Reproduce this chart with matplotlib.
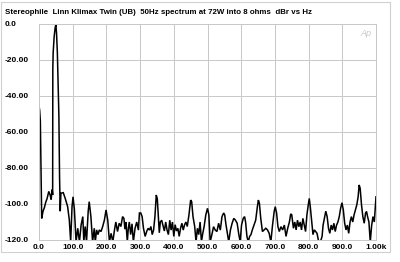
import matplotlib
matplotlib.use("Agg")
import matplotlib.pyplot as plt
from matplotlib.patches import Rectangle

title = "Stereophile  Linn Klimax Twin (UB)  50Hz spectrum at 72W into 8 ohms  dBr vs Hz"

freq_hz = [0, 2, 4, 6, 8, 12, 16, 20, 24, 29, 33, 36, 39, 40.5, 41, 42, 45, 48, 50, 52, 54.5, 57, 59, 61, 63,
           65, 72, 78, 85, 90, 94, 98, 101, 105, 110, 115, 120, 125, 130, 133, 137, 141, 146, 149, 154, 159,
           164, 167, 171, 175, 179, 184, 189, 194, 199, 204, 209, 214, 219, 224, 228, 233, 238, 243, 248,
           252, 255, 258, 262, 265, 268, 272, 276, 280, 285, 290, 295, 298, 302, 306, 310, 315, 320, 324,
           328, 332, 336, 340, 344, 348, 351, 354, 357, 360, 364, 368, 372, 376, 380, 384, 388, 392, 396,
           400, 404, 408, 412, 416, 420, 424, 428, 432, 436, 440, 445, 450, 453, 457, 462, 466, 470, 474,
           478, 482, 486, 490, 495, 500, 504, 506, 508, 513, 518, 523, 528, 533, 538, 543, 548, 551, 555,
           559, 563, 568, 573, 578, 583, 588, 593, 597, 601, 606, 610, 613, 617, 621, 625, 629, 633, 638,
           643, 648, 651, 654, 658, 663, 668, 673, 678, 683, 688, 693, 698, 701, 705, 709, 713, 718, 723,
           728, 733, 738, 743, 747, 750, 755, 759, 763, 767, 771, 775, 779, 783, 787, 791, 795, 799, 802,
           805, 809, 813, 817, 821, 825, 830, 835, 840, 843, 847, 851, 855, 859, 863, 867, 871, 875, 879,
           883, 887, 891, 895, 899, 903, 907, 911, 915, 919, 923, 927, 931, 935, 939, 943, 947, 950, 953,
           957, 961, 965, 969, 972, 975, 979, 983, 987, 991, 995, 998, 1000]

level_dbr = [-45.5, -48, -54, -80, -108, -104, -102, -99, -97, -93, -95, -97.5, -92, -95, -25, -16, -7, -2,
             -0.3, -5, -16, -35, -51, -85, -104,
             -94, -93.7, -97, -101.5, -109, -121, -101.5, -96, -103, -121, -113.5, -121, -111.6, -107, -121,
             -112.5, -121, -104, -98.7, -107, -121,
             -113.5, -121, -114.4, -117, -114.4, -115.3, -112.5, -109, -103.3, -109, -121, -116.3, -121,
             -114.4, -110, -115.3, -110.7, -112.5, -107,
             -108, -114, -110, -121, -113.5, -110, -117, -111, -121, -113.5, -110, -114.5, -105, -105, -107,
             -113.5, -118, -115, -113.5,
             -114.5, -112.5, -117, -114.5, -107, -95, -97, -107, -116, -110, -109, -112, -115, -110, -114.5,
             -117, -109, -114.5, -110,
             -118, -111.5, -115, -113.5, -118, -113.5, -110.7, -114.5, -111.5, -110, -112.5, -106, -97.8,
             -98.7, -107, -112.5, -121, -113.5, -117,
             -110, -121, -116.3, -112.5, -106, -102.4, -106, -114, -121, -117, -112.6, -114.5, -115.3, -110.7,
             -114.5, -107, -105, -106, -111.7,
             -116.3, -121, -114.5, -110.7, -108, -109, -110.7, -117, -121, -111.7, -108, -107, -110, -118,
             -121, -118, -117, -114.4, -111.7,
             -109, -101.5, -97.8, -99.6, -108, -115.3, -114.4, -113.5, -114.4, -116.3, -121, -111.7, -104,
             -101.5, -105, -112.6, -115.3, -112.6, -114.4,
             -111.7, -118, -113.5, -110, -105.5, -106, -113.5, -110, -114.4, -109, -112.6, -110, -114.4, -108,
             -111.7, -115.3, -106, -100.5, -96.9,
             -101.5, -109, -117, -114.4, -115.3, -116.3, -121, -121, -118, -111.7, -108, -104, -107, -113.5,
             -116.3, -111.7, -114.4, -110.7, -115.3,
             -111.7, -110, -107, -102.4, -99.3, -103.3, -110.7, -114.4, -111.7, -116.3, -110, -107, -110, -106,
             -103.3, -100.5, -96, -89.4, -91.3,
             -100.5, -107, -110.7, -105, -104.2, -107, -110, -121, -112, -107, -110, -101.5, -96]

x_ticks = [0, 100, 200, 300, 400, 500, 600, 700, 800, 900, 1000]
x_tick_labels = ["0.0", "100.0", "200.0", "300.0", "400.0", "500.0", "600.0", "700.0", "800.0", "900.0", "1.00k"]
y_ticks = [0, -20, -40, -60, -80, -100, -120]
y_tick_labels = ["0.0", "-20.00", "-40.00", "-60.00", "-80.00", "-100.0", "-120.0"]

plt.rcParams['font.family'] = ['Liberation Sans', 'DejaVu Sans']

fig = plt.figure(figsize=(4.0, 2.62), dpi=100)
ax = fig.add_axes([39/400, 1 - 240/262, (376 - 39)/400, (240 - 24)/262])

ax.plot(freq_hz, level_dbr, color='black', lw=1.1, solid_joinstyle='miter')
ax.set_xlim(0, 1000)
ax.set_ylim(-120, 0)

ax.set_xticks(x_ticks)
ax.set_xticklabels(x_tick_labels, fontsize=6, fontweight='bold')
ax.set_yticks(y_ticks)
ax.set_yticklabels(y_tick_labels, fontsize=6, fontweight='bold')
for lab in ax.get_yticklabels():
    lab.set_horizontalalignment('left')
ax.tick_params(axis='y', length=0, pad=25)
ax.tick_params(axis='x', length=0, pad=3)

ax.grid(True, color='#c8c8c8', lw=0.7)
ax.set_axisbelow(True)
for s in ax.spines.values():
    s.set_color('#c8c8c8')
    s.set_linewidth(0.7)

ax.text(0.985, 0.975, "Ap", transform=ax.transAxes, ha='right', va='top',
        fontsize=6.5, style='italic', color='#c8c8c8')

fig.text(5/400, 1 - 12/262, title, ha='left', va='center', fontsize=5.7, fontweight='bold')

fig.patches.append(Rectangle((1/400, 1 - 252/262), 389/400, 250/262, transform=fig.transFigure,
                             fill=False, edgecolor='#d0d0d0', lw=0.8))

fig.savefig("out.png", dpi=100)
